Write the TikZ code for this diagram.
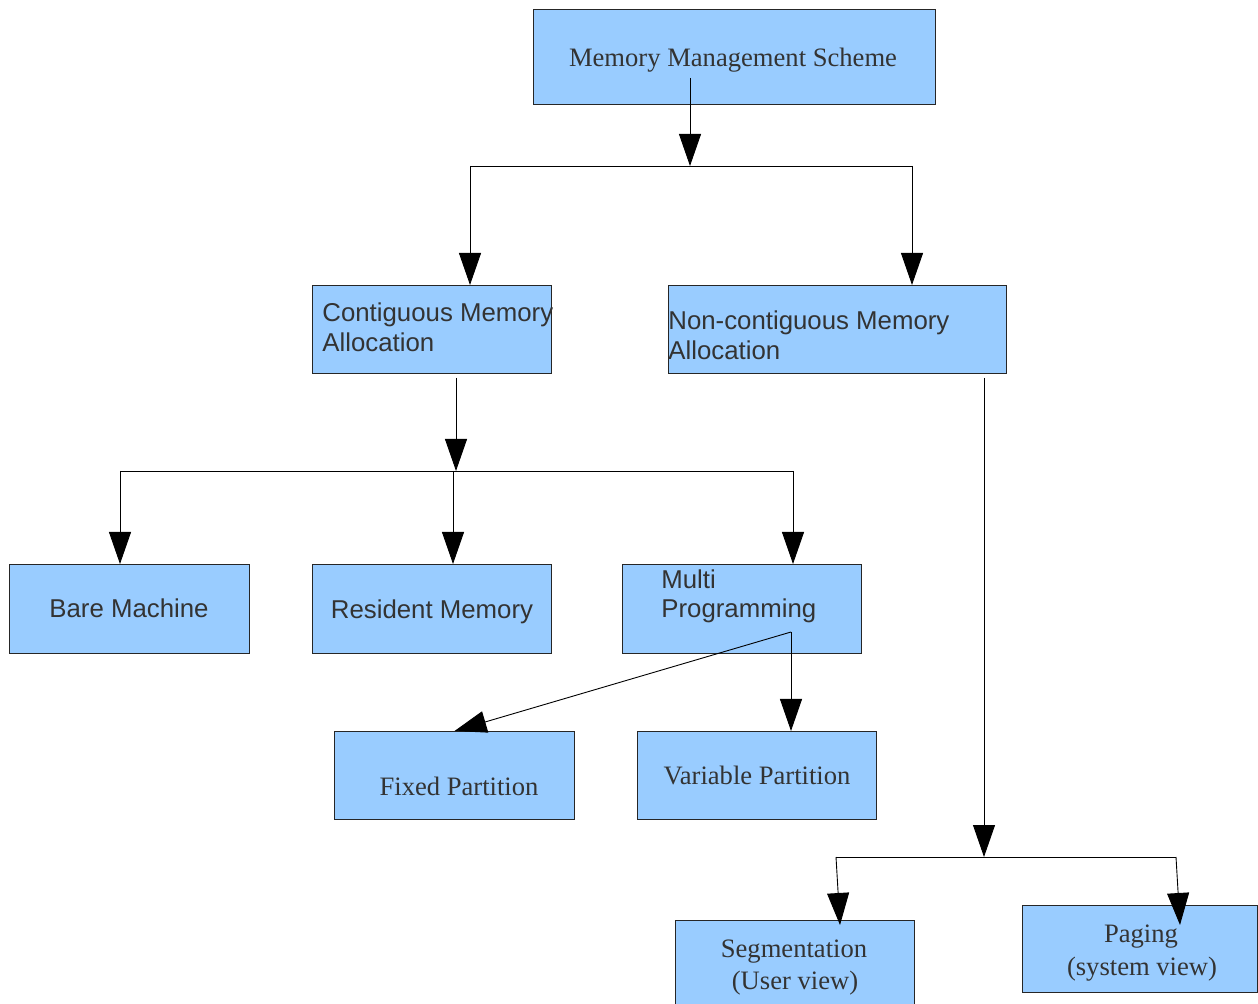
\documentclass[tikz,border=0pt]{standalone}
\usepackage{fontspec}
\setmainfont{Liberation Serif}
\setsansfont{Liberation Sans}
\usetikzlibrary{arrows.meta}
\definecolor{boxblue}{HTML}{99CCFF}
\definecolor{inkgray}{HTML}{333333}

\begin{document}
\begin{tikzpicture}[x=0.5pt,y=-0.5pt]
\tikzstyle{every node}+=[inner sep=0pt]
\tikzstyle{box}=[draw=black!85, fill=boxblue, anchor=north west, line width=0.5pt]
\tikzstyle{rm}=[text=inkgray, anchor=base, font=\fontsize{13.3}{16}\selectfont]
\tikzstyle{sf}=[text=inkgray, anchor=base, font=\sffamily\fontsize{12.9}{15}\selectfont]
\tikzstyle{wire}=[black, line width=0.45pt]
\tikzstyle{arr}=[wire, -{Triangle[length=16pt,width=11pt]}]
\useasboundingbox (0,0) rectangle (1258,1004);
\clip (0,0) rectangle (1258,1004);
\node[box, minimum width=201pt, minimum height=47.5pt] (mms) at (533,9) {};
\node[box, minimum width=119.5pt, minimum height=44pt] (cma) at (312,285) {};
\node[box, minimum width=169pt, minimum height=44pt] (nca) at (668,285) {};
\node[box, minimum width=120pt, minimum height=44.5pt] (bare) at (9,564) {};
\node[box, minimum width=119.5pt, minimum height=44.5pt] (res) at (312,564) {};
\node[box, minimum width=119.5pt, minimum height=44.5pt] (multi) at (622,564) {};
\node[box, minimum width=120pt, minimum height=44pt] (fixed) at (334,731) {};
\node[box, minimum width=119.5pt, minimum height=44pt] (var) at (637,731) {};
\node[box, minimum width=119.5pt, minimum height=50pt] (seg) at (675,920) {};
\node[box, minimum width=117.5pt, minimum height=43.5pt] (pag) at (1022,905) {};
\node[rm] (mmsT) at (733,67) {Memory Management Scheme};
\node[sf, anchor=base west] (cmaT1) at (322,322) {Contiguous Memory};
\node[sf, anchor=base west] (cmaT2) at (322,352) {Allocation};
\node[sf, anchor=base west] (ncaT1) at (668,330) {Non-contiguous Memory};
\node[sf, anchor=base west] (ncaT2) at (668,360) {Allocation};
\node[sf] (bareT) at (129,618) {Bare Machine};
\node[sf] (resT) at (432,619) {Resident Memory};
\node[sf, anchor=base west] (multiT1) at (661,589) {Multi};
\node[sf, anchor=base west] (multiT2) at (661,618) {Programming};
\node[rm] (fixedT) at (459,796) {Fixed Partition};
\node[rm] (varT) at (757,784) {Variable Partition};
\node[rm] (segT1) at (794,957) {Segmentation};
\node[rm] (segT2) at (795,989) {(User view)};
\node[rm] (pagT1) at (1141,942) {Paging};
\node[rm] (pagT2) at (1142,975) {(system view)};
\coordinate (mmsOut) at (690,78);
\coordinate (j1) at (690,166);
\coordinate (j1l) at (470,166);
\coordinate (j1r) at (912,166);
\draw[arr] (mmsOut) -- (j1);
\draw[wire] (j1l) -- (j1r);
\draw[arr] (j1l) -- (j1l |- cma.north);
\draw[arr] (j1r) -- (j1r |- nca.north);
\coordinate (cmaOut) at (456,378);
\coordinate (j2) at (456,471);
\coordinate (j2l) at (120,471);
\coordinate (j2m) at (453,471);
\coordinate (j2r) at (793,471);
\draw[arr] (cmaOut) -- (j2);
\draw[wire] (j2l) -- (j2r);
\draw[arr] (j2l) -- (j2l |- bare.north);
\draw[arr] (j2m) -- (j2m |- res.north);
\draw[arr] (j2r) -- (j2r |- multi.north);
\coordinate (multiOut) at (791,632);
\draw[arr] (multiOut) -- (fixed.north);
\draw[arr] (multiOut) -- (multiOut |- var.north);
\coordinate (ncaOut) at (984,378);
\coordinate (j3) at (984,857);
\coordinate (j3l) at (836,857);
\coordinate (j3r) at (1176,857);
\coordinate (segIn) at (840,925);
\coordinate (pagIn) at (1180,925);
\draw[arr] (ncaOut) -- (j3);
\draw[wire] (j3l) -- (j3r);
\draw[arr] (j3l) -- (segIn);
\draw[arr] (j3r) -- (pagIn);
\end{tikzpicture}
\end{document}
